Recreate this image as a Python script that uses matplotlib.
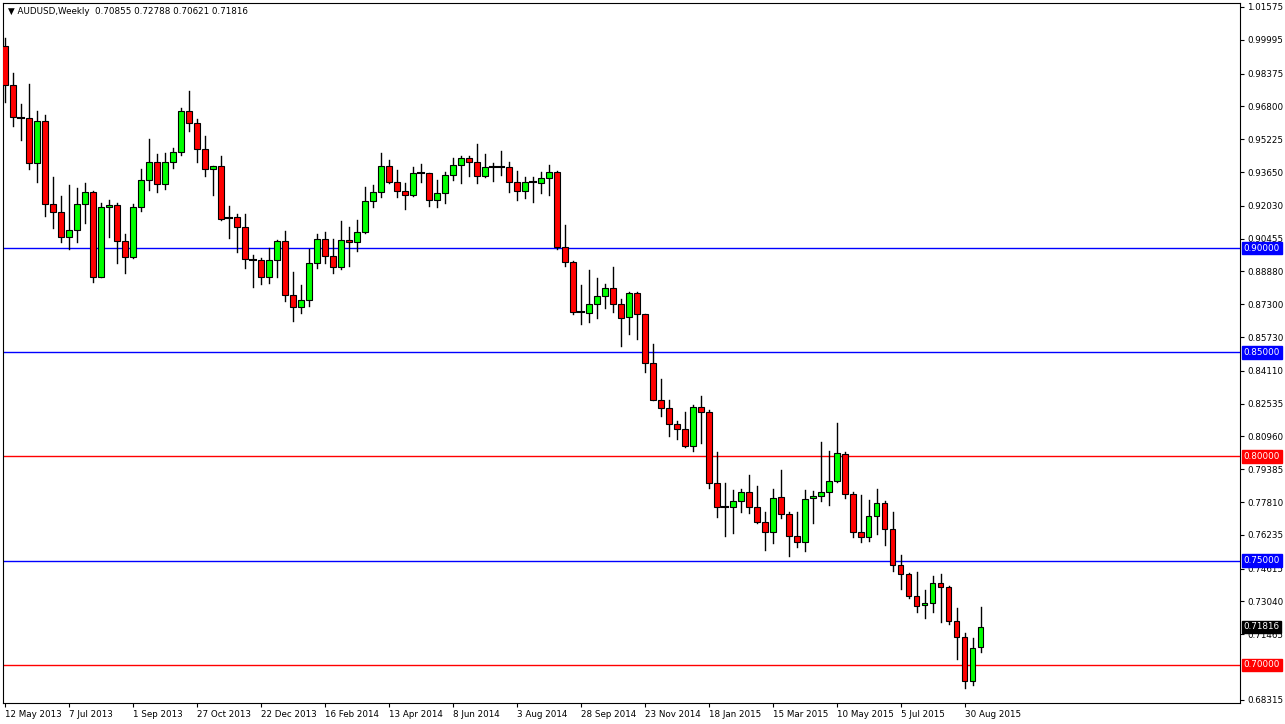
import matplotlib
matplotlib.use("Agg")
import matplotlib.pyplot as plt
from matplotlib.patches import Rectangle

opens = [.9970,.9783,.9625,.9625,.9409,.9610,.9212,.9173,.9053,.9087,.9212,.9269,.8861,.9197,.9207,.9034,.8957,.9197,.9327,.9413,
         .9308,.9413,.9461,.9658,.9601,.9476,.9380,.9394,.9145,.9149,.9101,.8943,.8943,.8861,.8943,.9034,.8775,.8717,.8751,.8929,
         .9044,.8961,.8909,.9039,.9029,.9077,.9226,.9269,.9394,.9317,.9274,.9255,.9361,.9361,.9231,.9265,.9351,.9399,.9433,.9413,
         .9346,.9389,.9389,.9389,.9317,.9274,.9317,.9313,.9337,.9365,.9005,.8933,.8693,.8689,.8732,.8769,.8809,.8732,.8669,.8784,
         .8684,.8449,.8271,.8233,.8156,.8132,.8050,.8237,.8213,.7873,.7757,.7757,.7786,.7829,.7757,.7685,.7637,.7805,.7724,.7618,
         .7589,.7801,.7810,.7829,.7882,.8012,.7820,.7637,.7613,.7714,.7777,.7652,.7479,.7436,.7330,.7287,.7297,.7393,.7373,.7210,
         .7133,.6922,.70855]
highs = [1.0009,.9841,.9692,.9788,.9658,.9639,.9341,.9250,.9303,.9289,.9313,.9274,.9217,.9231,.9217,.9068,.9212,.9380,.9524,.9452,
         .9457,.9481,.9673,.9754,.9620,.9538,.9394,.9441,.9202,.9164,.9164,.8967,.8953,.9001,.9039,.9081,.8885,.8823,.8996,.9068,
         .9077,.9044,.9130,.9101,.9135,.9293,.9303,.9457,.9423,.9375,.9313,.9389,.9404,.9361,.9327,.9365,.9433,.9441,.9441,.9500,
         .9452,.9409,.9466,.9413,.9370,.9341,.9341,.9365,.9399,.9370,.9111,.8937,.8823,.8895,.8857,.8827,.8909,.8756,.8789,.8789,
         .8684,.8540,.8372,.8271,.8170,.8213,.8247,.8290,.8223,.8021,.7873,.7839,.7844,.7911,.7858,.7733,.7844,.7935,.7733,.7733,
         .7839,.7834,.8069,.8026,.8161,.8021,.7829,.7815,.7791,.7844,.7786,.7733,.7527,.7441,.7445,.7359,.7426,.7436,.7378,.7273,
         .7153,.7129,.72788]
lows = [.9701,.9586,.9519,.9380,.9317,.9154,.9097,.9029,.8996,.9029,.9121,.8837,.8861,.9053,.8929,.8881,.8953,.9178,.9279,.9269,
        .9284,.9385,.9447,.9562,.9413,.9346,.9255,.9135,.9049,.8981,.8905,.8813,.8827,.8832,.8861,.8746,.8650,.8689,.8722,.8905,
        .8929,.8881,.8900,.8914,.8986,.9073,.9197,.9245,.9313,.9245,.9188,.9250,.9317,.9202,.9197,.9217,.9327,.9313,.9346,.9313,
        .9341,.9322,.9351,.9269,.9231,.9241,.9221,.9265,.9255,.8996,.8914,.8684,.8636,.8645,.8665,.8713,.8693,.8530,.8588,.8564,
        .8405,.8271,.8194,.8098,.8084,.8045,.8026,.8065,.7849,.7709,.7618,.7633,.7733,.7729,.7681,.7551,.7585,.7705,.7522,.7565,
        .7546,.7681,.7786,.7767,.7877,.7801,.7613,.7589,.7594,.7628,.7575,.7450,.7364,.7321,.7253,.7225,.7253,.7205,.7196,.7028,
        .6889,.6903,.70621]
closes = [.9783,.9629,.9625,.9409,.9610,.9212,.9173,.9053,.9087,.9212,.9269,.8861,.9197,.9207,.9034,.8957,.9197,.9327,.9413,.9308,
          .9413,.9461,.9658,.9601,.9476,.9380,.9394,.9140,.9145,.9101,.8947,.8943,.8861,.8943,.9034,.8775,.8717,.8751,.8929,.9044,
          .8961,.8909,.9039,.9029,.9077,.9226,.9269,.9394,.9317,.9274,.9255,.9361,.9361,.9231,.9265,.9351,.9399,.9433,.9413,.9346,
          .9389,.9389,.9389,.9317,.9274,.9317,.9317,.9337,.9365,.9005,.8933,.8693,.8689,.8732,.8769,.8809,.8732,.8665,.8784,.8684,
          .8449,.8271,.8233,.8156,.8132,.8050,.8237,.8213,.7873,.7757,.7757,.7786,.7829,.7757,.7685,.7637,.7801,.7724,.7618,.7589,
          .7796,.7810,.7829,.7882,.8017,.7820,.7637,.7613,.7714,.7777,.7652,.7479,.7436,.7330,.7282,.7297,.7393,.7373,.7210,.7133,
          .6922,.7081,.71816]

date_labels = ["12 May 2013","7 Jul 2013","1 Sep 2013","27 Oct 2013","22 Dec 2013","16 Feb 2014","13 Apr 2014",
               "8 Jun 2014","3 Aug 2014","28 Sep 2014","23 Nov 2014","18 Jan 2015","15 Mar 2015","10 May 2015",
               "5 Jul 2015","30 Aug 2015"]
date_idx = [0,8,16,24,32,40,48,56,64,72,80,88,96,104,112,120]
price_ticks = [1.01575,0.99995,0.98375,0.96800,0.95225,0.93650,0.92030,0.90455,0.88880,0.87300,0.85730,
               0.84110,0.82535,0.80960,0.79385,0.77810,0.76235,0.74615,0.73040,0.71465,0.68315]
levels = [0.90, 0.85, 0.80, 0.75, 0.70]
level_colors = ["#0000ff","#0000ff","#ff0000","#0000ff","#ff0000"]

fs = 6.3
fig = plt.figure(figsize=(12.85,7.24), dpi=100)
ax = fig.add_axes([3/1285, 21/724, 1237/1285, 700/724])
ax.set_xlim(-0.25, 154.4)
ax.set_ylim(0.68166, 1.01766)

for i,(o,h,l,c) in enumerate(zip(opens,highs,lows,closes)):
    ax.plot([i,i],[l,h],color="black",lw=1,zorder=2)
    if abs(c-o) < 0.0004:
        ax.plot([i-0.35,i+0.35],[o,o],color="black",lw=1.5,zorder=3)
    else:
        col = "#00ff00" if c>o else "#ff0000"
        ax.add_patch(Rectangle((i-0.33,min(o,c)),0.66,abs(c-o),facecolor=col,edgecolor="black",lw=0.8,zorder=3))

for lv,lc in zip(levels,level_colors):
    ax.axhline(lv,color=lc,lw=1,zorder=1)
    ax.text(1.003,lv,f"{lv:.5f}",transform=ax.get_yaxis_transform(),va="center",ha="left",fontsize=fs,
            color="white",bbox=dict(boxstyle="square,pad=0.2",fc=lc,ec=lc),zorder=5)
ax.text(1.003,closes[-1],f"{closes[-1]:.5f}",transform=ax.get_yaxis_transform(),va="center",ha="left",fontsize=fs,
        color="white",bbox=dict(boxstyle="square,pad=0.2",fc="black",ec="black"),zorder=5)

ax.yaxis.tick_right()
ax.set_yticks(price_ticks)
ax.set_yticklabels([f"{p:.5f}" for p in price_ticks],fontsize=fs)
ax.set_xticks(date_idx)
ax.set_xticklabels(date_labels,fontsize=fs,ha="left")
ax.tick_params(axis="both",length=3,pad=2,direction="out")
for s in ax.spines.values():
    s.set_color("black"); s.set_linewidth(0.8)
ax.text(0.004,0.995,"\u25bc AUDUSD,Weekly  0.70855 0.72788 0.70621 0.71816",transform=ax.transAxes,
        va="top",ha="left",fontsize=fs)
fig.savefig("out.png",dpi=100)
